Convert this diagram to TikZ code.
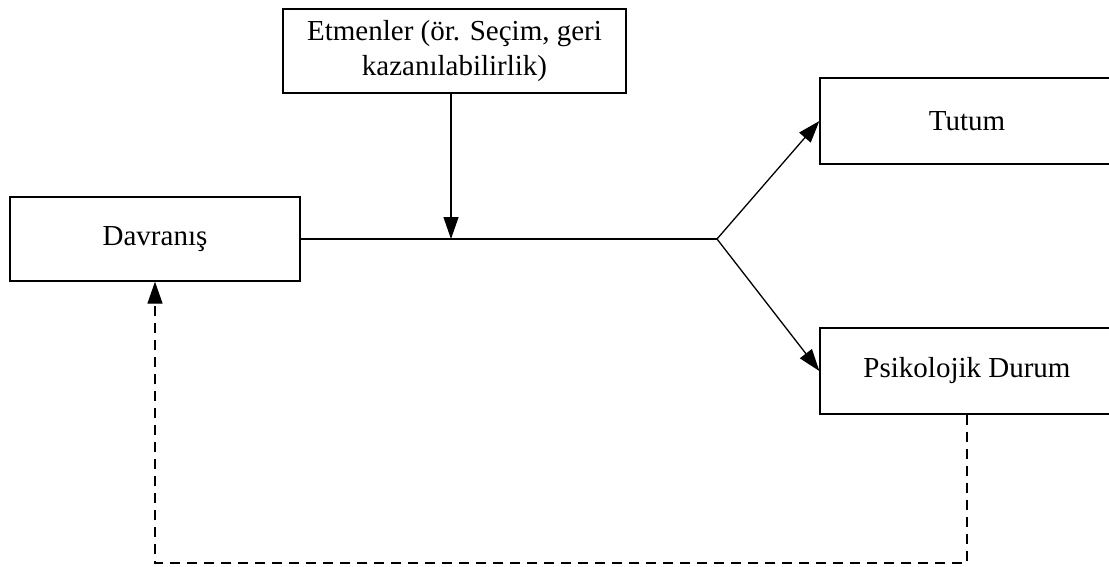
\documentclass[tikz,border=0pt]{standalone}
\usepackage{fontspec}
\setmainfont{Liberation Serif}
\usetikzlibrary{arrows.meta}
\begin{document}
\begin{tikzpicture}[x=1pt,y=-1pt,
  box/.style={draw, line width=1.3pt, inner sep=0pt, align=center,
    font=\fontsize{29}{35}\selectfont},
  link/.style={line width=1.3pt},
  arr/.style={link, -{Triangle[length=22pt,width=15pt]}},
  fb/.style={link, dash pattern=on 10pt off 7pt}]
  \useasboundingbox (0,0) rectangle (1109,567);

  \node[box, minimum width=343pt, minimum height=84pt] (fac) at (454.5,51)
    {Etmenler (ör. Seçim, geri\\kazanılabilirlik)};
  \node[box, minimum width=290pt, minimum height=84pt] (beh) at (155,239) {Davranış};
  \node[box, minimum width=294pt, minimum height=86pt] (att) at (967,121) {Tutum};
  \node[box, minimum width=294pt, minimum height=86pt] (psy) at (967,371) {Psikolojik Durum};

  \coordinate (fork) at (717,239);
  \coordinate (meet) at (451,239);
  \coordinate (low) at (0,563);

  % main path and its branches
  \draw[link] (beh.east) -- (fork);
  \draw[arr] (fac.south -| meet) -- (meet);
  \draw[arr] (fork) -- (att.west);
  \draw[arr] (fork) -- (psy.west);

  % feedback loop
  \draw[fb, -{Triangle[length=22pt,width=15pt]}]
    (psy.south) -- (psy.south |- low) -- (beh.south |- low) -- (beh.south);
\end{tikzpicture}
\end{document}
